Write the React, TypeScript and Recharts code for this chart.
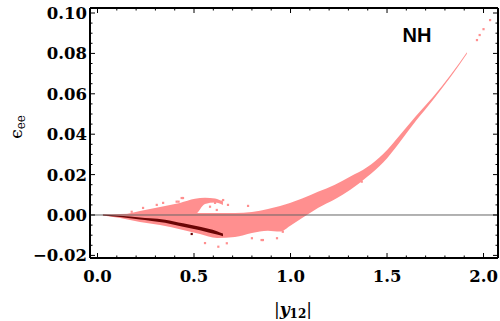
import React from 'react';
import {
  ComposedChart,
  Area,
  Scatter,
  XAxis,
  YAxis,
  ReferenceLine
} from 'recharts';

// pink cloud, main band: x with lower / upper edge
const mainX = [0.028, 0.117, 0.22, 0.324, 0.443, 0.531, 0.619, 0.712, 0.8, 0.883, 0.946, 0.997, 1.06, 1.142, 1.23, 1.31, 1.396, 1.48, 1.567, 1.65, 1.738, 1.83, 1.914];
const mainLo = [-0.0002, -0.0015, -0.0035, -0.005, -0.0074, -0.0094, -0.0114, -0.0109, -0.0089, -0.0078, -0.0082, -0.0054, -0.0015, 0.0035, 0.0078, 0.0125, 0.0188, 0.026, 0.0362, 0.0466, 0.0569, 0.0684, 0.0798];
const mainHi = [0.0002, 0.0005, 0.0007, 0.001, 0.001, 0.001, 0.001, 0.001, 0.0015, 0.003, 0.0045, 0.006, 0.0082, 0.0115, 0.015, 0.019, 0.0236, 0.0302, 0.0396, 0.049, 0.0584, 0.0694, 0.0806];

// the wing above zero around |y12| ~ 0.5
const wingX = [0.142, 0.22, 0.324, 0.427, 0.505, 0.557, 0.609, 0.65];
const wingLo = [0, 0.0005, 0.0005, 0.0005, 0.0005, 0.0055, 0.0062, 0.005];
const wingHi = [0.0002, 0.002, 0.004, 0.006, 0.008, 0.0085, 0.0082, 0.0065];

// dark red strip
const darkX = [0.028, 0.117, 0.22, 0.272, 0.35, 0.443, 0.531, 0.619, 0.65];
const darkLo = [-0.0002, -0.001, -0.0022, -0.0028, -0.0038, -0.0058, -0.0075, -0.0097, -0.0105];
const darkHi = [0.0002, -0.0004, -0.0012, -0.0016, -0.0023, -0.0041, -0.0058, -0.008, -0.0092];

// loose pink points
const pinkDotX = [0.177, 0.236, 0.307, 0.34, 0.41, 0.42, 0.436, 0.443, 0.566, 0.583, 0.609, 0.618, 0.643, 0.651, 0.676, 0.78, 0.557, 0.626, 0.67, 0.747, 0.8, 0.85, 0.857, 0.93, 0.96, 1.11, 1.179, 1.205, 1.369, 1.395, 1.42, 1.455, 1.966, 1.98, 2.0, 2.034];
const pinkDotY = [0.0016, 0.0035, 0.005, 0.006, 0.0066, 0.0066, 0.0084, 0.0084, 0.0074, 0.0041, 0.006, 0.0025, 0.0066, 0.0074, 0.005, 0.0045, -0.0139, -0.0157, -0.014, -0.0094, -0.0115, -0.0124, -0.0124, -0.0115, -0.0083, 0.0028, 0.0066, 0.0083, 0.0165, 0.0206, 0.0231, 0.0252, 0.0866, 0.0891, 0.092, 0.0965];

const darkDotX = [0.488];
const darkDotY = [-0.0094];

const xMajor = [0, 0.5, 1, 1.5, 2];
const xTicks = [0, 0.1, 0.2, 0.3, 0.4, 0.5, 0.6, 0.7, 0.8, 0.9, 1, 1.1, 1.2, 1.3, 1.4, 1.5, 1.6, 1.7, 1.8, 1.9, 2];
const yMajor = [-0.02, 0, 0.02, 0.04, 0.06, 0.08, 0.1];
const yTicks = [-0.02, -0.015, -0.01, -0.005, 0, 0.005, 0.01, 0.015, 0.02, 0.025, 0.03, 0.035, 0.04, 0.045, 0.05, 0.055, 0.06, 0.065, 0.07, 0.075, 0.08, 0.085, 0.09, 0.095, 0.1];

const band = (xs: number[], lo: number[], hi: number[]) =>
  xs.map((x, i) => ({ x, r: [lo[i], hi[i]] }));
const points = (xs: number[], ys: number[]) => xs.map((x, i) => ({ x, y: ys[i] }));

const mainData = band(mainX, mainLo, mainHi);
const wingData = band(wingX, wingLo, wingHi);
const darkData = band(darkX, darkLo, darkHi);
const pinkDots = points(pinkDotX, pinkDotY);
const darkDots = points(darkDotX, darkDotY);

const PINK = '#ff8f8f';
const DARK = '#6a0505';
const TICK_FONT = '"DejaVu Serif", serif';

// plot frame edges
const LEFT = 90;
const RIGHT = 498;
const TOP = 8;
const BOTTOM = 258;
const X_DOMAIN = [-0.0389, 2.075];
const Y_DOMAIN = [-0.02129, 0.10248];

const isIn = (v: number, list: number[]) => list.some(m => Math.abs(m - v) < 1e-9);

const fmt = (v: number, d: number) => {
  const s = Math.abs(v).toFixed(d);
  return v < -1e-9 ? '\u2212' + s : s;
};

const BottomTick = (props: any) => {
  const { x, payload } = props;
  const major = isIn(payload.value, xMajor);
  return (
    <g>
      <line x1={x} x2={x} y1={BOTTOM} y2={BOTTOM - (major ? 5 : 2.5)} stroke="#000" strokeWidth={1} />
      {major && (
        <text x={x} y={BOTTOM + 24} textAnchor="middle" fontFamily={TICK_FONT} fontWeight="bold" fontSize={16.5} fill="#000">
          {fmt(payload.value, 1)}
        </text>
      )}
    </g>
  );
};

const TopTick = (props: any) => {
  const { x, payload } = props;
  const major = isIn(payload.value, xMajor);
  return <line x1={x} x2={x} y1={TOP} y2={TOP + (major ? 5 : 2.5)} stroke="#000" strokeWidth={1} />;
};

const LeftTick = (props: any) => {
  const { y, payload } = props;
  const major = isIn(payload.value, yMajor);
  return (
    <g>
      <line x1={LEFT} x2={LEFT + (major ? 5 : 2.5)} y1={y} y2={y} stroke="#000" strokeWidth={1} />
      {major && (
        <text x={LEFT - 3} y={y + 6} textAnchor="end" fontFamily={TICK_FONT} fontWeight="bold" fontSize={16.5} fill="#000">
          {fmt(payload.value, 2)}
        </text>
      )}
    </g>
  );
};

const RightTick = (props: any) => {
  const { y, payload } = props;
  const major = isIn(payload.value, yMajor);
  return <line x1={RIGHT} x2={RIGHT - (major ? 5 : 2.5)} y1={y} y2={y} stroke="#000" strokeWidth={1} />;
};

const XTitle = () => (
  <g>
    <text x={293} y={315} textAnchor="middle" fontFamily={TICK_FONT} fontSize={17} fill="#000">
      <tspan>|</tspan>
      <tspan fontStyle="italic" fontWeight="bold">y</tspan>
      <tspan fontSize={12} fontWeight="bold" dy={3}>12</tspan>
      <tspan dy={-3}>|</tspan>
    </text>
    <text x={417} y={42} textAnchor="middle" fontFamily='"Liberation Sans", Arial, sans-serif' fontWeight="bold" fontSize={20} fill="#000">
      NH
    </text>
  </g>
);

const YTitle = () => (
  <text transform="translate(22,127) rotate(-90)" textAnchor="middle" fontFamily={TICK_FONT} fontSize={17} fill="#000">
    <tspan>{'\u03f5'}</tspan>
    <tspan fontSize={12} dy={3}>ee</tspan>
  </text>
);

const Dot = (color: string) => (p: any) => (
  <rect x={p.cx - 1.1} y={p.cy - 1.1} width={2.2} height={2.2} fill={color} />
);

export default function App() {
  return (
    <div style={{ position: 'absolute', left: 0, top: 0, background: '#fff' }}>
      <ComposedChart width={500} height={321} margin={{ top: TOP - 1, right: 500 - RIGHT - 1, bottom: 321 - BOTTOM - 1, left: 8 }}>
        <XAxis
          type="number"
          dataKey="x"
          domain={X_DOMAIN}
          allowDataOverflow
          ticks={xTicks}
          interval={0}
          tickSize={0}
          tickMargin={0}
          tick={<BottomTick />}
          axisLine={{ stroke: '#000', strokeWidth: 2 }}
          tickLine={false}
          height={1}
          label={<XTitle />}
        />
        <XAxis
          xAxisId="top"
          orientation="top"
          type="number"
          dataKey="x"
          domain={X_DOMAIN}
          allowDataOverflow
          ticks={xTicks}
          interval={0}
          tickSize={0}
          tick={<TopTick />}
          axisLine={{ stroke: '#000', strokeWidth: 2 }}
          tickLine={false}
          height={1}
        />
        <YAxis
          type="number"
          domain={Y_DOMAIN}
          allowDataOverflow
          ticks={yTicks}
          interval={0}
          tickSize={0}
          tickMargin={0}
          tick={<LeftTick />}
          axisLine={{ stroke: '#000', strokeWidth: 2 }}
          tickLine={false}
          width={LEFT - 8}
          label={<YTitle />}
        />
        <YAxis
          yAxisId="right"
          orientation="right"
          type="number"
          domain={Y_DOMAIN}
          allowDataOverflow
          ticks={yTicks}
          interval={0}
          tickSize={0}
          tick={<RightTick />}
          axisLine={{ stroke: '#000', strokeWidth: 2 }}
          tickLine={false}
          width={1}
        />
        <Area data={mainData} dataKey="r" type="monotone" stroke="none" fill={PINK} fillOpacity={1} isAnimationActive={false} />
        <Area data={wingData} dataKey="r" type="monotone" stroke="none" fill={PINK} fillOpacity={1} isAnimationActive={false} />
        <Scatter data={pinkDots} dataKey="y" shape={Dot(PINK)} isAnimationActive={false} />
        <Area data={darkData} dataKey="r" type="monotone" stroke="none" fill={DARK} fillOpacity={1} isAnimationActive={false} />
        <Scatter data={darkDots} dataKey="y" shape={Dot(DARK)} isAnimationActive={false} />
        <ReferenceLine y={0} stroke="#666" strokeWidth={1} />
      </ComposedChart>
    </div>
  );
}
